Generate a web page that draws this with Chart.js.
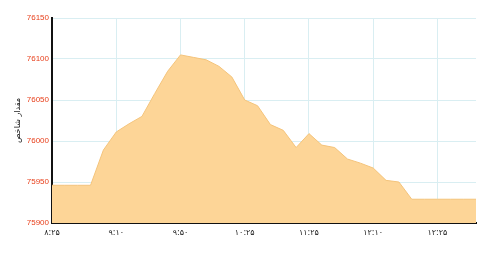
<!DOCTYPE html>
<html lang="fa">
<head>
  <meta charset="UTF-8" />
  <title>مقدار شاخص</title>
  <script src="https://cdn.jsdelivr.net/npm/chart.js"></script>
  <style>
    body { margin: 0; background: #fff; }
    #wrap { width: 500px; height: 263px; }
  </style>
</head>
<body>
<div id="wrap"><canvas id="chart"></canvas></div>

<script>
// labels shown under the axis, one every 5 points
const tickLabels = ['۸:۲۵', '۹:۱۰', '۹:۵۰', '۱۰:۲۵', '۱۱:۲۵', '۱۲:۱۰', '۱۲:۲۵'];
const labelEvery = 5;

// index value
const values = [
  75946, 75946, 75946, 75946, 75989, 76011, 76021, 76030, 76058, 76085,
  76105, 76102, 76099, 76091, 76078, 76050, 76043, 76020, 76013, 75992,
  76009, 75995, 75992, 75978, 75973, 75967, 75952, 75950, 75929, 75929,
  75929, 75929, 75929, 75929
];

const yMin = 75900;
const yMax = 76150;
const yStep = 50;

const labels = values.map(function (v, i) {
  return i % labelEvery === 0 ? (tickLabels[i / labelEvery] || '') : '';
});

const gridBlue = '#d9eef2';

new Chart(document.getElementById('chart'), {
  type: 'line',
  data: {
    labels: labels,
    datasets: [{
      data: values,
      fill: 'start',
      backgroundColor: '#fdd597',
      borderColor: '#f4c47c',
      borderWidth: 1,
      pointRadius: 0,
      tension: 0
    }]
  },
  options: {
    responsive: true,
    maintainAspectRatio: false,
    animation: false,
    layout: { padding: { top: 18, right: 24, left: 0, bottom: 0 } },
    plugins: { legend: { display: false }, tooltip: { enabled: false } },
    scales: {
      x: {
        offset: false,
        border: { color: '#111', width: 2 },
        grid: {
          drawTicks: false,
          color: function (ctx) { return ctx.index % labelEvery === 0 ? gridBlue : 'transparent'; }
        },
        ticks: {
          autoSkip: false,
          maxRotation: 0,
          padding: 5,
          color: '#222',
          font: { family: 'DejaVu Sans', size: 8 }
        },
        afterFit: function (scale) { scale.height = 40; }
      },
      y: {
        min: yMin,
        max: yMax,
        border: { color: '#111', width: 2 },
        grid: { drawTicks: false, color: gridBlue },
        ticks: {
          stepSize: yStep,
          padding: 3,
          color: '#e8401c',
          font: { family: 'Liberation Sans', size: 8 },
          callback: function (value) { return String(value); }
        },
        title: {
          display: true,
          text: 'مقدار شاخص',
          color: '#111',
          padding: { top: 13, bottom: 0 },
          font: { family: 'DejaVu Sans', size: 8 }
        },
        afterFit: function (scale) { scale.width = 52; }
      }
    }
  }
});
</script>
</body>
</html>
